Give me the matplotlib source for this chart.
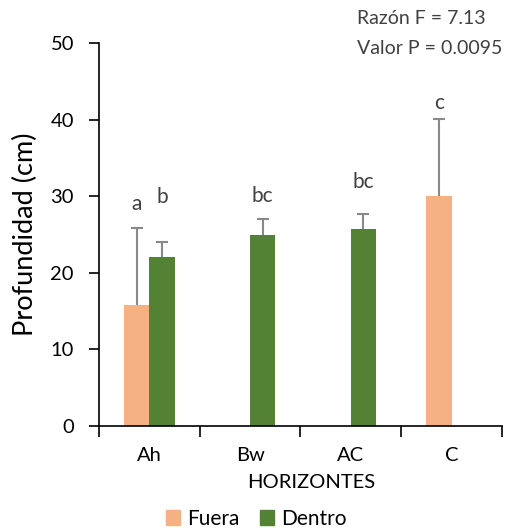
import matplotlib
matplotlib.use("Agg")
import matplotlib.pyplot as plt
from matplotlib.patches import Patch
import numpy as np

# Data
horizontes = ["Ah", "Bw", "AC", "C"]
fuera = [15.8, None, None, 30.0]
fuera_err = [10.0, None, None, 10.1]
dentro = [22.0, 25.0, 25.7, None]
dentro_err = [2.0, 2.0, 2.0, None]
letras = ["a", "b", "bc", "bc", "c"]
estadistica = ["Razón F = 7.13", "Valor P = 0.0095"]

# Height (data units) of the baseline of each significance letter
letra_y = [28.2, 29.1, 29.2, 31.1, 41.4]

c_fuera = "#F4B183"
c_dentro = "#548235"
c_err = "#898989"
c_text = "#404040"

plt.rcParams["font.family"] = ["Lato", "DejaVu Sans"]

W, H = 510, 531
fig = plt.figure(figsize=(W / 100, H / 100), dpi=100)
ax = fig.add_axes([99 / W, (H - 426) / H, (502 - 99) / W, (426 - 43) / H])

centers = np.arange(len(horizontes)) + 0.5
bw = 0.25
ekw = dict(ecolor=c_err, elinewidth=1.5, capsize=4.6, capthick=1.5)


def bar_with_err(x, val, err, color):
    ax.bar(x, val, bw, color=color, zorder=2)
    _, caps, _ = ax.errorbar(x, val, yerr=[[0], [err]], fmt="none", zorder=3, **ekw)
    caps[0].set_visible(False)  # only the upper cap is shown
    return x


label_x = []
for i, x in enumerate(centers):
    if fuera[i] is not None:
        label_x.append(bar_with_err(x - bw / 2, fuera[i], fuera_err[i], c_fuera))
    if dentro[i] is not None:
        label_x.append(bar_with_err(x + bw / 2, dentro[i], dentro_err[i], c_dentro))

for x, y, txt in zip(label_x, letra_y, letras):
    ax.text(x, y, txt, ha="center", va="baseline", fontsize=15, color=c_text)

ax.set_xlim(0, len(horizontes))
ax.set_ylim(0, 50)
ax.set_yticks(np.arange(0, 51, 10))
ax.set_xticks(np.arange(0, len(horizontes) + 1))
ax.set_xticklabels([])
ax.set_xticks(centers, minor=True)
ax.set_xticklabels(horizontes, minor=True, fontsize=14.5)
ax.tick_params(axis="x", which="minor", length=0, pad=15)
ax.tick_params(axis="x", which="major", length=8, width=1.2, direction="out")
ax.tick_params(axis="y", length=7, width=1.2, labelsize=14.5, pad=11)
for s in ["top", "right"]:
    ax.spines[s].set_visible(False)
for s in ["left", "bottom"]:
    ax.spines[s].set_linewidth(1.2)

ax.set_ylabel("Profundidad (cm)", fontsize=19.5, labelpad=9)
fig.text(311 / W, 1 - 482 / H, "HORIZONTES", ha="center", va="center", fontsize=14.5)

fig.text(357 / W, 1 - 18 / H, estadistica[0], ha="left", va="center", fontsize=14, color=c_text)
fig.text(357 / W, 1 - 48 / H, estadistica[1], ha="left", va="center", fontsize=14, color=c_text)

handles = [Patch(color=c_fuera, label="Fuera"), Patch(color=c_dentro, label="Dentro")]
fig.legend(handles=handles, loc="center", bbox_to_anchor=(256 / W, 1 - 519 / H),
           ncol=2, frameon=False, fontsize=15, handlelength=0.7, handleheight=0.7,
           handletextpad=0.3, columnspacing=1.0)

fig.savefig("out.png", dpi=100)
